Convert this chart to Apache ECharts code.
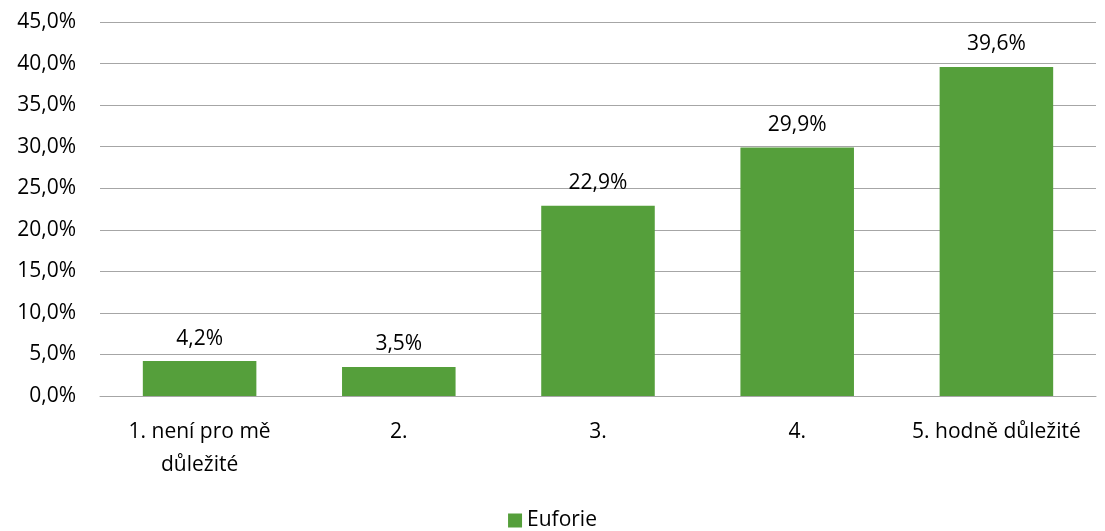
<!DOCTYPE html>
<html>
<head>
<meta charset="utf-8">
<script src="https://cdn.jsdelivr.net/npm/echarts@6/dist/echarts.min.js"></script>
<style>
  html, body { margin: 0; padding: 0; background: #fff; }
  #chart { width: 1105px; height: 531px; }
</style>
</head>
<body>
<div id="chart"></div>
<script>
const categories = ["1. není pro mě\ndůležité", "2.", "3.", "4.", "5. hodně důležité"];
const seriesName = "Euforie";
const values = [4.2, 3.5, 22.9, 29.9, 39.6];

const fmt = v => v.toFixed(1).replace(".", ",") + "%";

const chart = echarts.init(document.getElementById("chart"));
chart.setOption({
  animation: false,
  textStyle: { fontFamily: "Open Sans", color: "#000" },
  grid: { left: 100, right: 9, top: 22, bottom: 135, containLabel: false },
  legend: {
    top: 505,
    left: "center",
    itemWidth: 14,
    itemHeight: 14,
    itemGap: 6,
    icon: "rect",
    textStyle: { fontSize: 21, color: "#000", fontFamily: "Open Sans" },
    data: [seriesName]
  },
  xAxis: {
    type: "category",
    data: categories,
    axisLine: { lineStyle: { color: "#a6a6a6" } },
    axisTick: { show: false },
    axisLabel: { fontSize: 21, color: "#000", margin: 20, lineHeight: 33, interval: 0 }
  },
  yAxis: {
    type: "value",
    min: 0,
    max: 45,
    interval: 5,
    axisLine: { show: false },
    axisTick: { show: false },
    splitLine: { lineStyle: { color: "#a6a6a6" } },
    axisLabel: { fontSize: 21, color: "#000", margin: 24, formatter: fmt }
  },
  series: [{
    name: seriesName,
    type: "bar",
    data: values,
    barWidth: "57%",
    itemStyle: { color: "#559f3b" },
    label: {
      show: true,
      position: "top",
      distance: 12,
      fontSize: 21,
      color: "#000",
      formatter: p => fmt(p.value)
    }
  }]
});
</script>
</body>
</html>
